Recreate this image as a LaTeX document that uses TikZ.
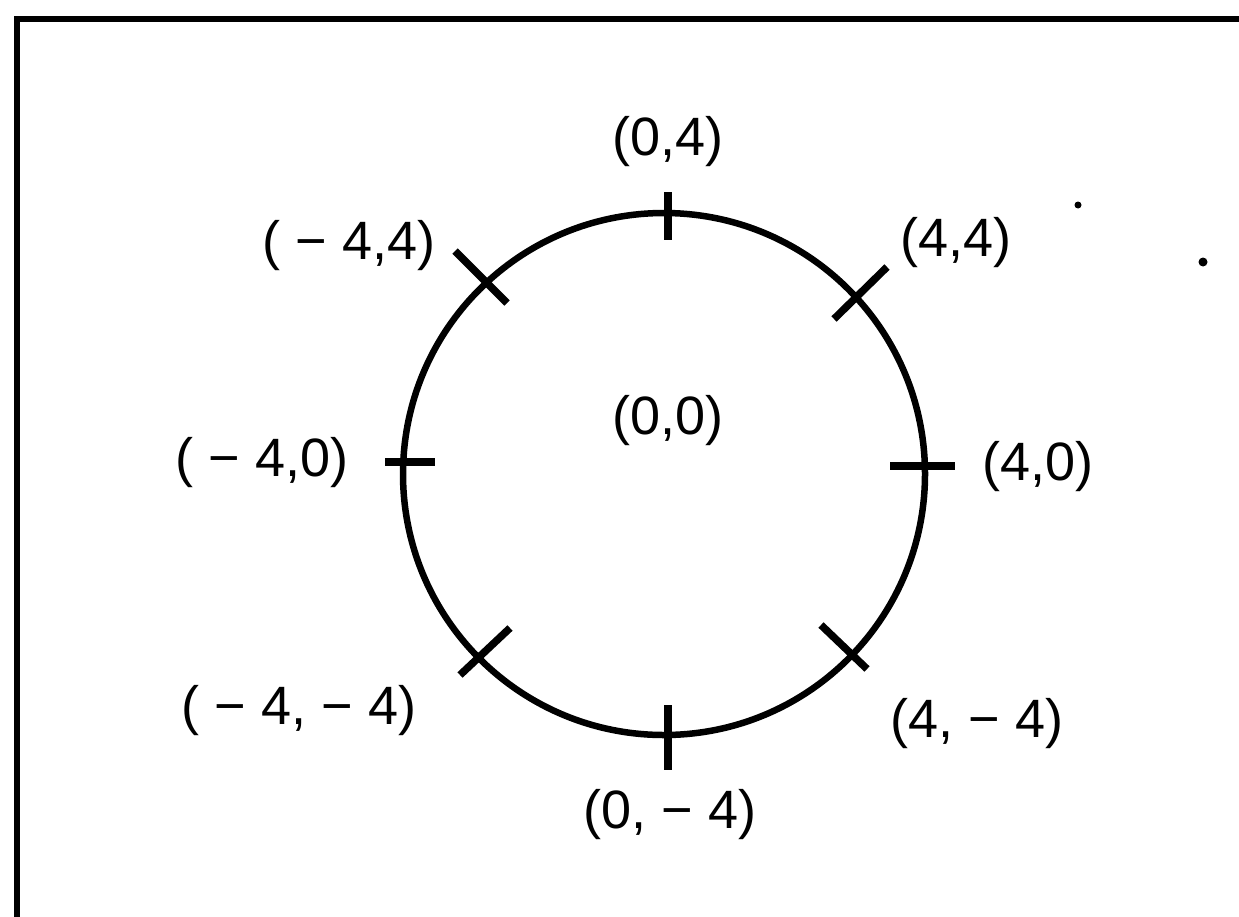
\documentclass[tikz,border=0pt]{standalone}
\usepackage{fontspec}
\setmainfont{Liberation Sans}
\begin{document}
\begin{tikzpicture}[x=1pt,y=-1pt,
  frameline/.style={line width=6pt},
  ring/.style={line width=6.5pt},
  tick/.style={line width=7.5pt},
  lbl/.style={inner sep=0pt, font=\fontsize{54}{60}\selectfont},
  speck/.style={fill=black}]
\useasboundingbox (0,0) rectangle (1239,916);
% frame (left and top edges visible)
\coordinate (fbl) at (17,930);
\coordinate (ftl) at (17,19);
\coordinate (ftr) at (1250,19);
\draw[frameline] (fbl) -- (ftl) -- (ftr);
% circle
\coordinate (c) at (664,474);
\draw[ring] (c) circle[radius=261pt];
% ticks
\coordinate (t1a) at (668,192); \coordinate (t1b) at (668,240);
\coordinate (t2a) at (668,705); \coordinate (t2b) at (668,770);
\coordinate (t3a) at (385,462); \coordinate (t3b) at (435,462);
\coordinate (t4a) at (890,466); \coordinate (t4b) at (955,466);
\coordinate (t5a) at (455,251); \coordinate (t5b) at (507,303);
\coordinate (t6a) at (887,267); \coordinate (t6b) at (834,319);
\coordinate (t7a) at (510,628); \coordinate (t7b) at (460,675);
\coordinate (t8a) at (821,625); \coordinate (t8b) at (867,669);
\foreach \i in {1,...,8} \draw[tick] (t\i a) -- (t\i b);
% labels
\node[lbl] (l04) at (668,142) {(0,4)};
\node[lbl] (lm44) at (349,246) {( − 4,4)};
\node[lbl] (l44) at (956,243) {(4,4)};
\node[lbl] (lm40) at (262,463) {( − 4,0)};
\node[lbl] (l00) at (668,421) {(0,0)};
\node[lbl] (l40) at (1038,467) {(4,0)};
\node[lbl] (lm4m4) at (299,711) {( − 4, − 4)};
\node[lbl] (l4m4) at (977,724) {(4, − 4)};
\node[lbl] (l0m4) at (670,815) {(0, − 4)};
% specks
\fill[speck] (1078,205) circle[radius=3.5pt];
\fill[speck] (1203,262) circle[radius=4.5pt];
\end{tikzpicture}
\end{document}
